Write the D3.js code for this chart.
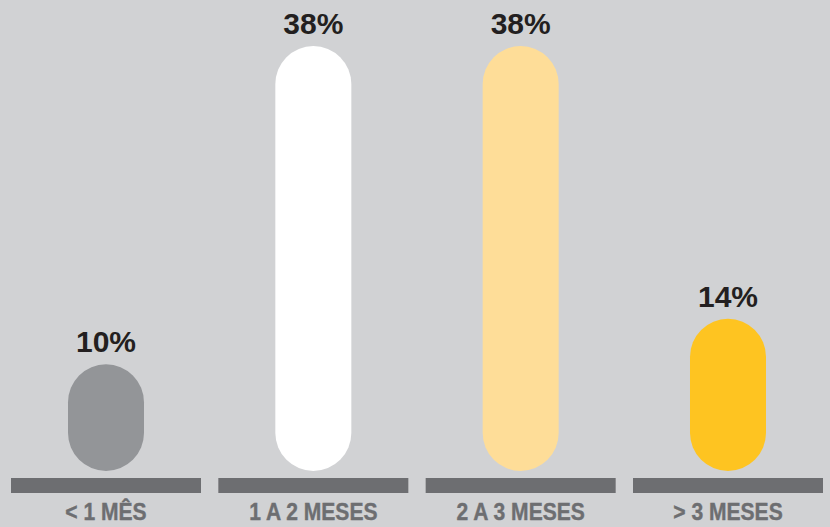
<!DOCTYPE html>
<html>
<head>
<meta charset="utf-8">
<script src="https://cdn.jsdelivr.net/npm/d3@7"></script>
<style>
  html, body { margin: 0; padding: 0; background: #d1d2d4; }
  svg { display: block; }
</style>
</head>
<body>
<div id="chart"></div>
<script>
// Data
const categories = ['< 1 MÊS', '1 A 2 MESES', '2 A 3 MESES', '> 3 MESES'];
const values = [10, 38, 38, 14];
const valueLabels = ['10%', '38%', '38%', '14%'];
const colors = ['#939598', '#ffffff', '#fedd98', '#fec421'];

const width = 830, height = 527;

const svg = d3.select('#chart')
    .append('svg')
    .attr('width', width)
    .attr('height', height)
    .style('background', '#d1d2d4');

// Scales
const x = d3.scaleBand()
    .domain(categories)
    .range([11, 823])
    .paddingInner(0.0836)
    .paddingOuter(0);

const baseY = 478;
const y = d3.scaleLinear()
    .domain([0, 38])
    .range([baseY, 46]);

const pillW = 76;
const gap = 7;
const cx = d => x(d) + x.bandwidth() / 2;

// Baseline bars
svg.append('g')
    .selectAll('rect')
    .data(categories)
    .enter().append('rect')
    .attr('x', d => x(d))
    .attr('y', baseY)
    .attr('width', x.bandwidth())
    .attr('height', 15)
    .attr('fill', '#6d6e71');

// Pills
svg.append('g')
    .selectAll('rect')
    .data(values)
    .enter().append('rect')
    .attr('x', (d, i) => cx(categories[i]) - pillW / 2)
    .attr('y', d => y(d))
    .attr('width', pillW)
    .attr('height', d => baseY - gap - y(d))
    .attr('rx', pillW / 2)
    .attr('ry', pillW / 2)
    .attr('fill', (d, i) => colors[i]);

// Value labels
svg.append('g')
    .selectAll('text')
    .data(values)
    .enter().append('text')
    .attr('x', (d, i) => cx(categories[i]))
    .attr('y', d => y(d) - 12)
    .attr('text-anchor', 'middle')
    .style('font-family', 'Liberation Sans, Arial, sans-serif')
    .style('font-weight', 'bold')
    .style('font-size', '30px')
    .attr('fill', '#231f20')
    .text((d, i) => valueLabels[i]);

// Category labels (condensed look via horizontal squeeze)
svg.append('g')
    .selectAll('text')
    .data(categories)
    .enter().append('text')
    .attr('transform', d => `translate(${cx(d)},520) scale(0.86,1)`)
    .attr('text-anchor', 'middle')
    .style('font-family', 'Liberation Sans, Arial, sans-serif')
    .style('font-weight', 'bold')
    .style('font-size', '24.5px')
    .attr('fill', '#6d6e71')
    .attr('stroke', '#6d6e71')
    .attr('stroke-width', 0.4)
    .text(d => d);
</script>
</body>
</html>
